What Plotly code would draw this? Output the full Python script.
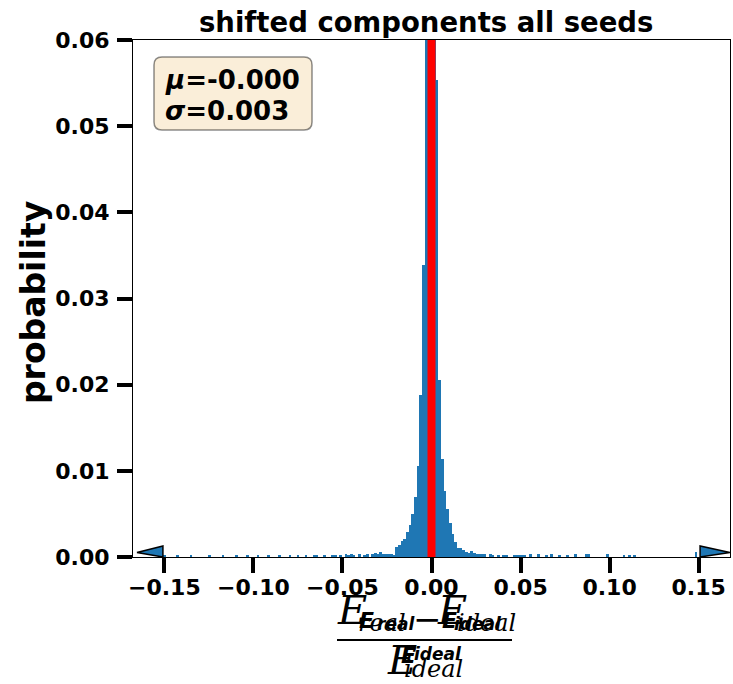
import plotly.graph_objects as go

# ---------------- data ----------------
bin_width = 0.0015
bin_centers = [
    -0.1500, -0.1425, -0.1350, -0.1245, -0.1170, -0.1095, -0.1035, -0.0975,
    -0.0915, -0.0855, -0.0795, -0.0750, -0.0705, -0.0660, -0.0645, -0.0600,
    -0.0555, -0.0540, -0.0510, -0.0480, -0.0465, -0.0450, -0.0435, -0.0405,
    -0.0375, -0.0360, -0.0330, -0.0315, -0.0300, -0.0285, -0.0270, -0.0255,
    -0.0240, -0.0225, -0.0210, -0.0195, -0.0180, -0.0165, -0.0150, -0.0135,
    -0.0120, -0.0105, -0.0090, -0.0075, -0.0060, -0.0045, -0.0030, -0.0015,
    0.0000, 0.0015, 0.0030, 0.0045, 0.0060, 0.0075, 0.0090, 0.0105,
    0.0120, 0.0135, 0.0150, 0.0165, 0.0180, 0.0195, 0.0210, 0.0225,
    0.0240, 0.0255, 0.0270, 0.0285, 0.0300, 0.0330, 0.0345, 0.0375,
    0.0405, 0.0420, 0.0465, 0.0480, 0.0495, 0.0510, 0.0525, 0.0555,
    0.0600, 0.0645, 0.0675, 0.0720, 0.0765, 0.0810, 0.0870, 0.0885,
    0.0990, 0.1080, 0.1110, 0.1140, 0.1485,
]
probabilities = [
    0.00015, 0.00012, 0.00015, 0.00020, 0.00015, 0.00020, 0.00012, 0.00018,
    0.00015, 0.00018, 0.00012, 0.00020, 0.00018, 0.00025, 0.00020, 0.00020,
    0.00025, 0.00020, 0.00025, 0.00030, 0.00020, 0.00030, 0.00020, 0.00030,
    0.00020, 0.00035, 0.00030, 0.00050, 0.00030, 0.00060, 0.00030, 0.00040,
    0.00040, 0.00040, 0.00020, 0.00120, 0.00140, 0.00180, 0.00210, 0.00290,
    0.00370, 0.00500, 0.00700, 0.01060, 0.01880, 0.03390, 0.09000, 0.20000,
    0.24000, 0.16000, 0.05540, 0.02060, 0.01140, 0.00770, 0.00560, 0.00390,
    0.00270, 0.00170, 0.00110, 0.00100, 0.00080, 0.00060, 0.00050, 0.00070,
    0.00050, 0.00040, 0.00030, 0.00040, 0.00030, 0.00040, 0.00020, 0.00020,
    0.00020, 0.00020, 0.00020, 0.00020, 0.00020, 0.00020, 0.00020, 0.00030,
    0.00040, 0.00020, 0.00030, 0.00020, 0.00020, 0.00030, 0.00040, 0.00040,
    0.00030, 0.00020, 0.00020, 0.00012, 0.00060,
]
mean_value = 0.0
mean_label = "-0.000"
std_label = "0.003"
x_ticks = [-0.15, -0.10, -0.05, 0.00, 0.05, 0.10, 0.15]
x_tick_text = ["\u22120.15", "\u22120.10", "\u22120.05", "0.00", "0.05", "0.10", "0.15"]
y_ticks = [0.00, 0.01, 0.02, 0.03, 0.04, 0.05, 0.06]
y_tick_text = ["0.00", "0.01", "0.02", "0.03", "0.04", "0.05", "0.06"]
# out-of-range markers (arrow tips), and arrow back positions
arrow_tips = [-0.1654, 0.1676]
arrow_backs = [-0.1508, 0.1508]

# ---------------- layout constants ----------------
W, H = 733, 684
L, R, T, B = 133, 3, 40, 127
PW, PH = W - L - R, H - T - B
XR = [-0.1676, 0.1676]
YR = [0.0, 0.06]
BLUE = "#1f77b4"
FONT = "DejaVu Sans"
SERIF = "DejaVu Serif"


def px(x):
    return (x - L) / PW


def py(y):
    return (H - B - y) / PH


fig = go.Figure()
fig.add_trace(go.Bar(x=bin_centers, y=probabilities, width=bin_width,
                     marker=dict(color=BLUE, line=dict(width=0)),
                     hoverinfo="skip"))

# outlier arrows (heights in data units = a few pixels)
ah = (YR[1] - YR[0]) / PH  # one pixel in y data units
for tip, back in zip(arrow_tips, arrow_backs):
    fig.add_trace(go.Scatter(
        x=[tip, back, back, tip], y=[4.5 * ah, 11 * ah, 0, 4.5 * ah],
        mode="lines", fill="toself", fillcolor=BLUE,
        line=dict(color="black", width=1.5), hoverinfo="skip"))

fig.add_shape(type="line", x0=mean_value, x1=mean_value, xref="x",
              y0=0, y1=1, yref="paper", line=dict(color="red", width=8),
              layer="above")

# stats box (rounded)
bx0, bx1, by0, by1, rr = 154, 312, 57, 130, 8
rx, ry = rr / PW, rr / PH
X0, X1, Y0, Y1 = px(bx0), px(bx1), py(by0), py(by1)
path = (f"M {X0+rx},{Y0} L {X1-rx},{Y0} Q {X1},{Y0} {X1},{Y0-ry} "
        f"L {X1},{Y1+ry} Q {X1},{Y1} {X1-rx},{Y1} L {X0+rx},{Y1} "
        f"Q {X0},{Y1} {X0},{Y1+ry} L {X0},{Y0-ry} Q {X0},{Y0} {X0+rx},{Y0} Z")
fig.add_shape(type="path", path=path, xref="paper", yref="paper",
              fillcolor="rgba(245,222,179,0.5)",
              line=dict(color="rgba(0,0,0,0.45)", width=1.5), layer="above")

ann = []


def text(x, y, s, size, family=FONT, weight="normal", xanchor="center",
         angle=0, color="black"):
    ann.append(dict(x=px(x), y=py(y), xref="paper", yref="paper", text=s,
                    showarrow=False, xanchor=xanchor, yanchor="middle",
                    textangle=angle,
                    font=dict(family=family, size=size, color=color,
                              weight=weight)))


text(163, 80, f"<i>\u03bc</i>={mean_label}", 26, weight="bold", xanchor="left")
text(163, 111, f"<i>\u03c3</i>={std_label}", 26, weight="bold", xanchor="left")

# title and y label
text(426, 22, "shifted components all seeds", 27.5, weight="bold")
text(33, 302, "probability", 33, weight="bold", angle=-90)

# x label: fraction (serif italic layer + bold overlay layer)
text(352, 610, "<i>E</i>", 40, family=SERIF)
text(382, 623, "<i>real</i>", 24, family=SERIF)
text(427, 619, "\u2212", 34, family=SERIF)
text(452, 610, "<i>E</i>", 40, family=SERIF)
text(486, 623, "<i>ideal</i>", 24, family=SERIF)
text(366, 620, "<i>E</i>", 22, weight="bold")
text(396, 624, "<i>real</i>", 17, weight="bold")
text(449, 620, "<i>E</i>", 22, weight="bold")
text(478, 624, "<i>ideal</i>", 17, weight="bold")
text(402, 660, "<i>E</i>", 40, family=SERIF)
text(433, 669, "<i>ideal</i>", 24, family=SERIF)
text(408, 655, "<i>E</i>", 22, weight="bold")
text(438, 654, "<i>ideal</i>", 17, weight="bold")

fig.add_shape(type="line", xref="paper", yref="paper",
              x0=px(337), x1=px(512), y0=py(640), y1=py(640),
              line=dict(color="black", width=2))

axis_common = dict(showline=True, linecolor="black", linewidth=1.2,
                   mirror=True, showgrid=False, zeroline=False,
                   ticks="outside", ticklen=15, tickwidth=4,
                   tickcolor="black",
                   tickfont=dict(family=FONT, size=22, color="black",
                                 weight="bold"))

fig.update_layout(
    width=W, height=H, margin=dict(l=L, r=R, t=T, b=B),
    plot_bgcolor="white", paper_bgcolor="white", showlegend=False,
    bargap=0, annotations=ann,
    xaxis=dict(range=XR, tickvals=x_ticks, ticktext=x_tick_text,
               ticklabelstandoff=-5, **axis_common),
    yaxis=dict(range=YR, tickvals=y_ticks, ticktext=y_tick_text,
               ticklabelstandoff=3, **axis_common),
)
fig.write_html("out.html")
